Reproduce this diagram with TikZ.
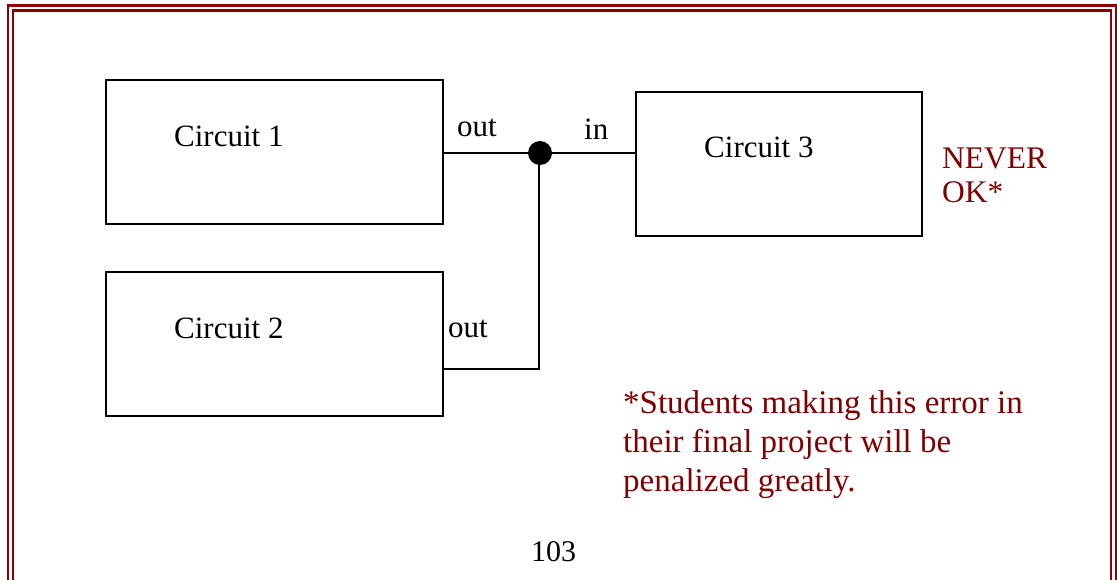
\documentclass[tikz,border=0pt]{standalone}
\usepackage{fontspec}
\setmainfont{Liberation Serif}
\definecolor{bordred}{RGB}{139,0,0}
\definecolor{txtred}{RGB}{128,0,0}
\begin{document}
\begin{tikzpicture}[x=1pt,y=-1pt,
  circbox/.style={draw=black,line width=2pt},
  wire/.style={draw=black,line width=2pt},
  lbl/.style={anchor=base west,inner sep=0pt,font=\fontsize{31}{37}\selectfont},
  redlbl/.style={anchor=base west,inner sep=0pt,text=txtred,font=\fontsize{31.5}{37}\selectfont},
  footlbl/.style={redlbl,font=\fontsize{33}{39}\selectfont},
  bordline/.style={draw=bordred,line width=2.2pt}]
\useasboundingbox (0,0) rectangle (1117,579);
\clip (0,0) rectangle (1117,579);
% double border
\draw[bordline] (8,5.5) rectangle (1116,620);
\draw[bordline] (13,10.5) rectangle (1111,615);
% boxes
\draw[circbox] (106,80) rectangle (443,224);
\coordinate (c1out) at (443,153);
\draw[circbox] (106,272) rectangle (443,416);
\coordinate (c2out) at (443,369);
\draw[circbox] (636,92) rectangle (922,236);
\coordinate (c3in) at (636,153);
% junction
\node[circle,fill=black,inner sep=0pt,minimum size=24pt] (dot) at (540,153) {};
\coordinate (corner) at (539,369);
\draw[wire] (c1out) -- (dot.center) -- (c3in);
\draw[wire] (c2out) -- (corner) -- (539,153);
% labels
\node[lbl] (t1) at (174,146) {Circuit 1};
\node[lbl] (t2) at (174,338) {Circuit 2};
\node[lbl] (t3) at (704,157) {Circuit 3};
\node[lbl] (o1) at (457,136) {out};
\node[lbl] (i3) at (584,139) {in};
\node[lbl] (o2) at (448,337) {out};
\node[redlbl] (nv) at (942,168) {NEVER};
\node[redlbl] (ok) at (942,202) {OK*};
\node[footlbl] (f1) at (623,413) {*Students making this error in};
\node[footlbl] (f2) at (623,452) {their final project will be};
\node[footlbl] (f3) at (623,491) {penalized greatly.};
\node[lbl,font=\fontsize{30}{36}\selectfont] (pg) at (531,561) {103};
\end{tikzpicture}
\end{document}
